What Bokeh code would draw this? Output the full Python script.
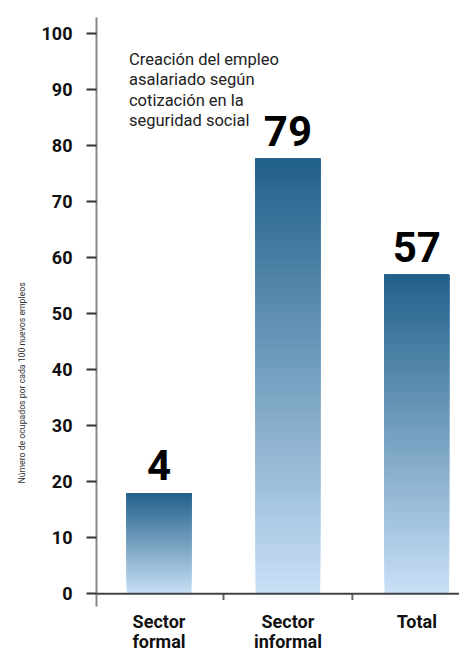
import numpy as np
from bokeh.plotting import figure
from bokeh.models import FixedTicker, Label, Span, Range1d, Title
from bokeh.core.properties import value
from bokeh.embed import file_html
from bokeh.resources import INLINE

# ---- data ----
categories = ["Sector\nformal", "Sector\ninformal", "Total"]
bar_values = [18.0, 77.6, 56.9]          # bar heights as drawn
value_labels = ["4", "79", "57"]          # numbers printed above bars
y_ticks = [0, 10, 20, 30, 40, 50, 60, 70, 80, 90, 100]
note = "Creación del empleo\nasalariado según\ncotización en la\nseguridad social"
y_title = "Número de ocupados por cada 100 nuevos empleos"

FONT = "Roboto"
n = len(categories)
xs = np.arange(n) + 0.5

p = figure(width=459, height=653,
           x_range=Range1d(0.015, 2.831), y_range=Range1d(-10.64, 102.8),
           output_backend="svg", toolbar_location=None, x_axis_location=None,
           min_border_left=96, min_border_right=0,
           min_border_top=17, min_border_bottom=0)
p.outline_line_color = None
p.grid.visible = False
p.background_fill_color = "white"
p.border_fill_color = "white"

# gradient bars: overlapping slices from each step up to the bar top
top_c = np.array([0x21, 0x60, 0x8a], dtype=float)
bot_c = np.array([0xc9, 0xe0, 0xf6], dtype=float)
N = 60
sx, sb, st, sc = [], [], [], []
for k in range(N):
    t = (k + 0.5) / N
    c = bot_c + (top_c - bot_c) * t
    col = "#%02x%02x%02x" % tuple(int(round(a)) for a in c)
    for x, v in zip(xs, bar_values):
        sx.append(x)
        sb.append(v * k / N)
        st.append(v)
        sc.append(col)
p.vbar(x=sx, bottom=sb, top=st, width=0.5, fill_color=sc, line_color=None)

# value labels
p.text(x=xs, y=bar_values, text=value_labels, text_align="center",
       text_baseline="alphabetic", y_offset=-28,
       text_font=value(FONT), text_font_style="bold",
       text_font_size="42px", text_color="#000000")

# zero line and category boundary ticks
p.add_layout(Span(location=0, dimension="width", line_color="#444444", line_width=2))
bounds = np.arange(1, n)
p.segment(x0=bounds, y0=0, x1=bounds, y1=-1.1, line_color="#666666", line_width=2)

# category labels under the zero line
p.text(x=xs, y=[0] * n, text=categories, text_align="center",
       text_baseline="top", y_offset=17, text_line_height=0.95,
       text_font=value(FONT), text_font_style="bold",
       text_font_size="18px", text_color="#111111")

# y axis
ya = p.yaxis[0]
ya.bounds = (-2.2, 102.8)
ya.ticker = FixedTicker(ticks=y_ticks)
ya.axis_line_color = "#888888"
ya.axis_line_width = 2
ya.major_tick_out = 10
ya.major_tick_in = 0
ya.major_tick_line_color = "#333333"
ya.major_tick_line_width = 2
ya.minor_tick_line_color = None
ya.major_label_standoff = 14
ya.major_label_text_font = FONT
ya.major_label_text_font_style = "bold"
ya.major_label_text_font_size = "18px"
ya.major_label_text_color = "#111111"

# note
p.add_layout(Label(x=0.267, y=97.0, text=note, text_baseline="top",
                   text_font=FONT, text_font_size="16.5px",
                   text_color="#222222", text_line_height=1.07))

# y title (left panel)
p.add_layout(Title(text=y_title, align="left", offset=170, standoff=23,
                   text_font=FONT, text_font_size="8.7px",
                   text_font_style="normal", text_color="#333333"), "left")

open("out.html", "w").write(file_html(p, INLINE))
